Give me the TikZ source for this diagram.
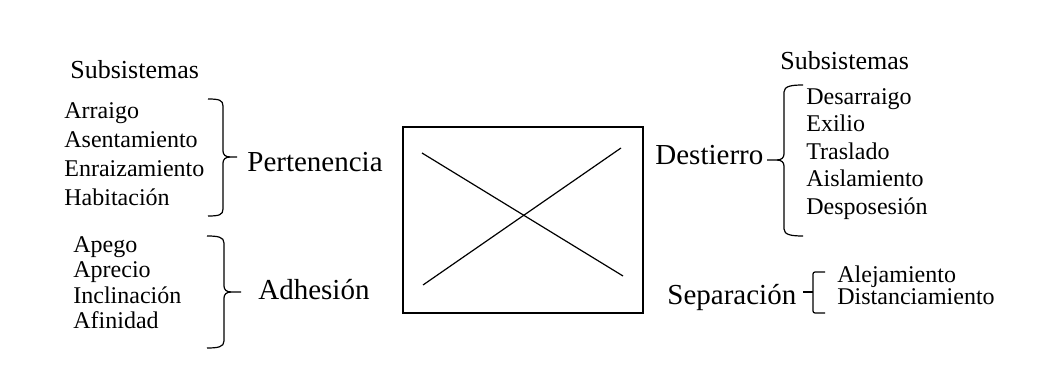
\documentclass[tikz,border=0pt]{standalone}
\usepackage{fontspec}
\setmainfont{Liberation Serif}
\begin{document}
\begin{tikzpicture}[x=0.5pt, y=-0.5pt,
  item/.style={anchor=base west, inner sep=0pt, font=\fontsize{12}{14}\selectfont},
  head/.style={anchor=base west, inner sep=0pt, font=\fontsize{13}{15}\selectfont},
  term/.style={anchor=base west, inner sep=0pt, font=\fontsize{14.5}{17}\selectfont},
  brace/.style={line width=0.6pt}
]
\useasboundingbox (0,0) rectangle (1039,384);
% left side
\node[head] (subl) at (70,79) {Subsistemas};
\node[item] (arraigo) at (64,119) {Arraigo};
\node[item] (asent) at (64,148) {Asentamiento};
\node[item] (enraiz) at (64,177) {Enraizamiento};
\node[item] (habit) at (64,206) {Habitación};
\draw[brace] (208,99) .. controls (219,99) and (223,100) .. (223,106) -- (223,151)
  .. controls (223,155) and (226,157) .. (230,157) -- (237,157);
\draw[brace] (208,216) .. controls (219,216) and (223,215) .. (223,209) -- (223,163)
  .. controls (223,159) and (226,157) .. (230,157);
\node[term] (pert) at (247,172) {Pertenencia};
\node[item] (apego) at (73,253) {Apego};
\node[item] (aprecio) at (73,278) {Aprecio};
\node[item] (inclin) at (73,304) {Inclinación};
\node[item] (afin) at (73,329) {Afinidad};
\draw[brace] (207,236) .. controls (218,236) and (224,237) .. (224,243) -- (224,286)
  .. controls (224,290) and (227,292) .. (231,292) -- (241,292);
\draw[brace] (207,348) .. controls (218,348) and (224,347) .. (224,341) -- (224,298)
  .. controls (224,294) and (227,292) .. (231,292);
\node[term] (adh) at (258,300) {Adhesión};
% middle box
\node[draw, line width=0.9pt, minimum width=120pt, minimum height=93pt, inner sep=0pt] (frame) at (523,220) {};
\draw[line width=0.6pt] (422,153) -- (623,276);
\draw[line width=0.6pt] (423,285) -- (621,148);
% right side
\node[head] (subr) at (780,70) {Subsistemas};
\node[term] (dest) at (655,165) {Destierro};
\draw[brace] (803,85) .. controls (792,85) and (784,86) .. (784,92) -- (784,154)
  .. controls (784,158) and (781,160) .. (777,160) -- (767,160);
\draw[brace] (803,236) .. controls (792,236) and (784,235) .. (784,229) -- (784,166)
  .. controls (784,162) and (781,160) .. (777,160);
\node[item] (desarr) at (806,105) {Desarraigo};
\node[item] (exilio) at (806,132) {Exilio};
\node[item] (trasl) at (806,160) {Traslado};
\node[item] (aisl) at (806,187) {Aislamiento};
\node[item] (despos) at (806,215) {Desposesión};
\node[term] (sep) at (667,305) {Separación};
\draw[brace, rounded corners=1pt] (825,272) -- (813,272) -- (813,313) -- (825,313);
\draw[brace] (803,292) -- (813,292);
\node[item] (alej) at (837,283) {Alejamiento};
\node[item] (distan) at (837,305) {Distanciamiento};
\end{tikzpicture}
\end{document}
